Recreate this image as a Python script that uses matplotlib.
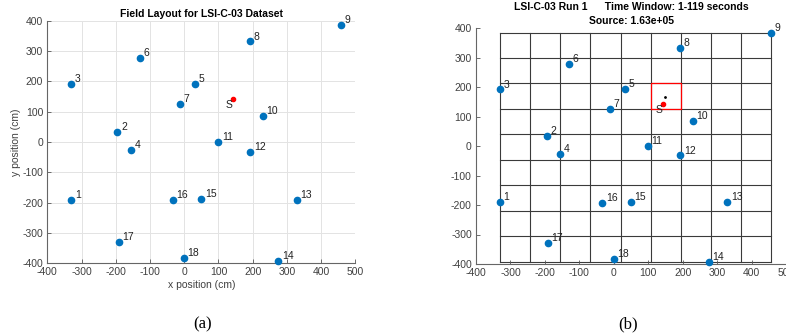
import numpy as np
import matplotlib
matplotlib.use('Agg')
import matplotlib.pyplot as plt

plt.rcParams['font.family'] = ['Liberation Sans', 'DejaVu Sans']
plt.rcParams['axes.unicode_minus'] = False

# sensor layout (cm)
sensor_ids = list(range(1, 19))
sensor_x = [-330, -195, -330, -155, 32, -130, -12, 191, 457, 229, 100, 193, 330, 275, 50, -33, -192, 0]
sensor_y = [-190, 33, 192, -27, 193, 278, 125, 332, 385, 85, 0, -32, -190, -392, -189, -192, -330, -382]

source_x = [142]
source_y = [142]
estimate_x = [150]
estimate_y = [168]

x_ticks = [-400, -300, -200, -100, 0, 100, 200, 300, 400, 500]
y_ticks = [-400, -300, -200, -100, 0, 100, 200, 300, 400]
n_cells = 9

blue = '#0072BD'
tick_col = '#404040'

fig = plt.figure(figsize=(7.86, 3.35), dpi=100)


def style_axes(ax):
    ax.set_xlim(-400, 500)
    ax.set_ylim(-400, 400)
    ax.set_xticks(x_ticks)
    ax.set_yticks(y_ticks)
    ax.tick_params(direction='in', length=3, width=0.6, labelsize=7.5, colors='#555555', labelcolor=tick_col, pad=3)
    for side in ['top', 'right']:
        ax.spines[side].set_visible(False)
    for side in ['left', 'bottom']:
        ax.spines[side].set_color('#666666')
        ax.spines[side].set_linewidth(0.8)


def draw_sensors(ax):
    ax.plot(sensor_x, sensor_y, 'o', color=blue, markersize=4.5, zorder=3, clip_on=False)
    for i, x, y in zip(sensor_ids, sensor_x, sensor_y):
        ax.annotate(str(i), (x, y), xytext=(2.5, 3.5), textcoords='offset points',
                    ha='left', va='center', fontsize=7.5, color='#222222', zorder=4)
    ax.plot(source_x, source_y, 'o', color='red', markersize=3, zorder=3)
    ax.annotate('S', (source_x[0], source_y[0]), xytext=(-2.5, -4.5), textcoords='offset points',
                ha='center', va='center', fontsize=7.5, color='#222222')


# (a) field layout
ax1 = fig.add_axes([0.0602, 0.214, 0.3919, 0.724])
style_axes(ax1)
ax1.grid(True, color='#e3e3e3', linewidth=0.7)
ax1.set_axisbelow(True)
draw_sensors(ax1)
ax1.set_title('Field Layout for LSI-C-03 Dataset', fontsize=7.5, fontweight='bold', pad=3)
ax1.set_xlabel('x position (cm)', fontsize=7.5, color=tick_col, labelpad=2)
ax1.set_ylabel('y position (cm)', fontsize=7.5, color=tick_col, labelpad=1)

# (b) run 1 with search grid
ax2 = fig.add_axes([0.6056, 0.212, 0.3944, 0.704])
style_axes(ax2)
gx = np.linspace(min(sensor_x), max(sensor_x), n_cells + 1)
gy = np.linspace(min(sensor_y), max(sensor_y), n_cells + 1)
for v in gx:
    ax2.plot([v, v], [gy[0], gy[-1]], color='#3a3a3a', linewidth=0.8, zorder=1)
for h in gy:
    ax2.plot([gx[0], gx[-1]], [h, h], color='#3a3a3a', linewidth=0.8, zorder=1)
# cell containing the source
ci = np.searchsorted(gx, source_x[0]) - 1
cj = np.searchsorted(gy, source_y[0]) - 1
ax2.plot([gx[ci], gx[ci + 1], gx[ci + 1], gx[ci], gx[ci]],
         [gy[cj], gy[cj], gy[cj + 1], gy[cj + 1], gy[cj]], color='red', linewidth=0.9, zorder=2)
draw_sensors(ax2)
ax2.plot(estimate_x, estimate_y, '.', color='black', markersize=2, zorder=3)
ax2.set_title('LSI-C-03 Run 1      Time Window: 1-119 seconds\nSource: 1.63e+05',
              fontsize=7.5, fontweight='bold', pad=3, linespacing=1.45)

fig.text(0.258, 0.02, '(a)', fontsize=12, family='Liberation Serif', ha='center')
fig.text(0.799, 0.02, '(b)', fontsize=12, family='Liberation Serif', ha='center')

fig.savefig('out.png', dpi=100)
